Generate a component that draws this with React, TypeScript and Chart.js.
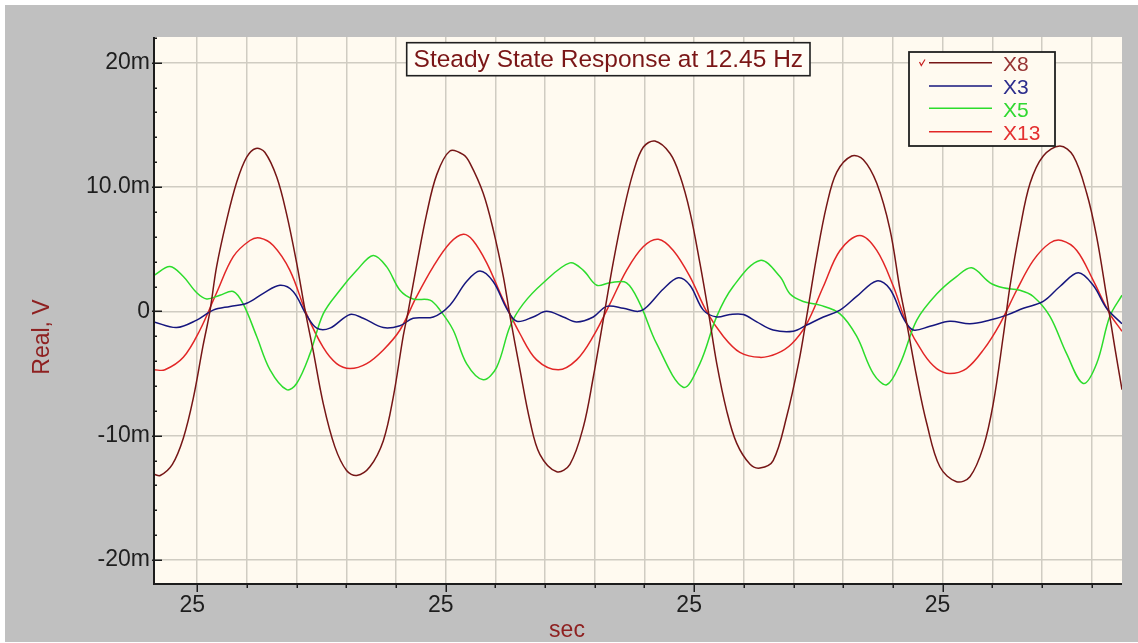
import React, { useEffect, useRef } from "react";
import { Chart, registerables } from "chart.js";

Chart.register(...registerables);

// ---------- data ----------
const chartTitle = "Steady State Response at 12.45 Hz";
const yAxisTitle = "Real, V";
const xAxisTitle = "sec";

const seriesNames = ["X8", "X3", "X5", "X13"];
const seriesColors = ["#761616", "#16167E", "#2CDC2C", "#E22626"];
const legendTextColors = ["#963232", "#2C2C8C", "#30D830", "#E43030"];

// time offsets in ms (one grid division = 20 ms), values in mV
const xMinMs = -17.4;
const xMaxMs = 372.2;
const yMin = -21.93;
const yMax = 22.07;

const xLabelStep = 100;
const xTickText = "25";
const yTickValues = [20, 10, 0, -10, -20];
const yTickTexts = ["20m", "10.0m", "0", "-10m", "-20m"];

const x8Time = [-17.4, -14.9, -10.0, -5.6, -1.6, 2.3, 5.1, 7.8, 11.8, 15.9, 19.9, 23.6, 27.2, 32.0, 36.0, 40.0, 43.3, 46.6, 50.7, 55.4, 60.1, 64.2, 69.5, 74.9, 78.9, 82.9, 84.9, 88.3, 92.3, 96.4, 101.7, 107.1, 109.8, 115.1, 119.1, 123.2, 125.9, 129.9, 133.9, 137.9, 144.7, 150.0, 155.4, 159.4, 163.4, 167.4, 171.5, 175.5, 179.5, 184.2, 190.3, 194.3, 198.3, 202.3, 205.7, 209.1, 213.1, 217.1, 222.5, 226.5, 231.8, 237.2, 242.2, 245.3, 249.3, 253.3, 257.4, 263.4, 268.1, 273.5, 278.8, 282.9, 285.6, 289.6, 293.6, 298.9, 305.6, 311.0, 316.4, 320.4, 324.4, 327.1, 331.1, 335.2, 340.5, 347.2, 352.6, 358.0, 362.0, 366.0, 369.3, 372.2];
const x8Values = [-13.1, -13.2, -12.3, -10.2, -7.0, -2.8, 0, 3.6, 7.3, 10.4, 12.4, 13.1, 12.8, 10.8, 7.8, 3.9, 0.2, -3.1, -7.4, -10.9, -12.8, -13.2, -12.5, -10.4, -6.9, -2.0, 0, 3.7, 7.8, 11.0, 12.9, 12.6, 11.9, 9.5, 6.6, 2.8, -0.4, -4.7, -8.8, -11.5, -12.9, -12.3, -9.3, -5.3, -0.7, 3.9, 8.0, 11.2, 13.2, 13.7, 12.7, 10.9, 8.0, 3.9, 0, -4.2, -8.0, -10.6, -12.3, -12.6, -12.0, -8.5, -4.0, -0.4, 4.4, 8.5, 11.2, 12.5, 12.2, 10.3, 6.6, 1.7, -1.0, -5.3, -9.0, -12.5, -13.7, -13.3, -10.9, -7.4, -2.0, 2.0, 6.6, 10.3, 12.5, 13.3, 12.5, 9.5, 6.0, 1.2, -2.9, -6.3];

const x3Time = [-17.4, -8.3, -0.2, 6.4, 13.2, 19.9, 26.6, 33.3, 38.6, 44.0, 48.1, 53.4, 61.5, 66.8, 74.9, 81.6, 86.9, 95.0, 101.7, 108.4, 113.8, 119.1, 124.5, 128.6, 135.2, 140.6, 147.3, 152.7, 159.4, 164.8, 171.5, 177.5, 180.9, 187.6, 193.6, 198.3, 203.7, 209.1, 214.4, 219.8, 225.2, 231.8, 239.9, 245.3, 252.0, 258.7, 265.4, 273.5, 278.8, 284.2, 288.2, 294.9, 302.9, 311.0, 319.1, 325.8, 332.5, 340.5, 347.2, 354.6, 360.6, 366.0, 372.2];
const x3Values = [-0.85, -1.3, -0.7, 0.1, 0.4, 0.65, 1.45, 2.1, 1.6, -0.3, -1.35, -1.35, -0.25, -0.55, -1.3, -1.15, -0.55, -0.45, 0.5, 2.4, 3.25, 2.4, 0.25, -0.8, -0.45, 0, -0.45, -0.85, -0.45, 0.4, 0.25, 0, 0.35, 1.8, 2.7, 2.1, 0.1, -0.45, -0.25, -0.25, -0.85, -1.5, -1.6, -1.1, -0.45, 0.1, 1.2, 2.45, 1.8, -0.55, -1.5, -1.2, -0.8, -1.0, -0.7, -0.3, 0.25, 0.8, 2.0, 3.1, 2.1, 0.25, -1.0];

const x5Time = [-17.4, -11.0, -5.6, -0.2, 3.8, 9.1, 14.5, 18.5, 23.9, 29.3, 36.0, 40.0, 45.4, 50.7, 57.4, 64.2, 70.8, 76.2, 81.6, 86.9, 93.7, 97.7, 103.0, 108.4, 115.1, 120.5, 125.9, 131.2, 139.3, 150.0, 155.4, 160.8, 166.1, 172.8, 178.2, 184.9, 195.6, 202.3, 209.1, 215.7, 226.5, 234.5, 238.6, 243.9, 250.6, 258.7, 265.4, 272.1, 277.5, 282.9, 289.6, 297.6, 305.6, 311.7, 319.1, 324.4, 331.1, 336.5, 343.2, 349.9, 356.6, 362.0, 367.3, 372.2];
const x5Values = [2.9, 3.6, 2.8, 1.5, 1.0, 1.3, 1.6, 0.6, -2.0, -4.7, -6.3, -5.8, -3.4, -0.2, 1.7, 3.3, 4.5, 3.6, 1.7, 1.0, 0.9, 0.1, -1.5, -4.2, -5.5, -4.5, -1.2, 0.6, 2.3, 3.9, 3.3, 2.1, 2.3, 2.3, 0.6, -2.6, -6.1, -4.2, -0.4, 2.0, 4.1, 2.8, 1.4, 0.8, 0.5, -0.2, -2.0, -5.0, -5.9, -4.2, -0.7, 1.4, 2.8, 3.5, 2.3, 1.9, 1.7, 1.2, -0.4, -3.4, -5.8, -4.2, -0.4, 1.3];

const x13Time = [-17.4, -13.0, -5.6, 1.1, 7.8, 14.5, 21.2, 25.2, 30.6, 37.3, 44.0, 50.7, 56.1, 61.5, 68.2, 74.9, 81.6, 88.3, 95.0, 101.7, 107.1, 111.0, 116.5, 123.2, 129.9, 136.6, 145.3, 152.7, 159.4, 166.1, 172.8, 179.5, 185.6, 191.6, 198.3, 205.0, 211.7, 218.4, 226.5, 233.2, 239.3, 245.3, 252.0, 258.7, 266.7, 273.5, 280.2, 285.6, 292.3, 297.6, 302.9, 309.6, 316.4, 323.1, 329.8, 336.5, 343.2, 347.9, 354.0, 360.6, 367.3, 372.2];
const x13Values = [-4.7, -4.7, -3.7, -1.5, 1.5, 4.4, 5.7, 5.9, 5.3, 3.3, -0.2, -2.9, -4.2, -4.6, -4.2, -3.1, -1.5, 1.2, 3.6, 5.5, 6.2, 5.7, 3.9, 0.9, -1.8, -3.9, -4.7, -3.9, -2.0, 0.6, 3.3, 5.2, 5.8, 4.9, 2.8, 0, -2.0, -3.3, -3.7, -3.4, -2.6, -1.0, 2.0, 4.9, 6.1, 4.9, 2.0, -1.0, -3.4, -4.6, -5.0, -4.6, -3.1, -1.0, 1.7, 4.1, 5.5, 5.7, 4.9, 2.5, -0.2, -1.6];

const seriesTimes = [x8Time, x3Time, x5Time, x13Time];
const seriesValues = [x8Values, x3Values, x5Values, x13Values];

// ---------- styles ----------
const pageBg = "#FFFFFF";
const frameBg = "#C0C0C0";
const plotBg = "#FFFAF0";
const gridColor = "#D0CCC2";
const axisColor = "#1C1C1C";
const tickTextColor = "#1E1E1E";
const titleTextColor = "#7A1616";
const axisTitleColor = "#8E2020";
const FONT = "Arial, 'Liberation Sans', sans-serif";

const decorPlugin = {
  id: "decor",
  beforeDraw(chart: any) {
    const { ctx, chartArea: a } = chart;
    ctx.save();
    ctx.fillStyle = plotBg;
    ctx.fillRect(a.left, a.top, a.right - a.left, a.bottom - a.top);
    ctx.restore();
  },
  afterDraw(chart: any) {
    const { ctx, chartArea: a, scales } = chart;
    const xs = scales.x;
    const ys = scales.y;
    ctx.save();

    // axis lines
    ctx.strokeStyle = axisColor;
    ctx.lineWidth = 2;
    ctx.beginPath();
    ctx.moveTo(a.left, a.top);
    ctx.lineTo(a.left, a.bottom);
    ctx.lineTo(a.right, a.bottom);
    ctx.stroke();

    // x tick marks
    ctx.lineWidth = 1.5;
    xs.ticks.forEach((t: any) => {
      const px = Math.round(xs.getPixelForValue(t.value)) + 0.25;
      const major = Math.abs(t.value % xLabelStep) < 1e-6;
      ctx.beginPath();
      ctx.moveTo(px, a.bottom);
      ctx.lineTo(px, a.bottom + (major ? 8 : 4));
      ctx.stroke();
    });

    // y tick marks
    for (let v = -20; v <= 22; v += 2) {
      const py = Math.round(ys.getPixelForValue(v)) + 0.25;
      const major = v % 10 === 0;
      ctx.beginPath();
      ctx.moveTo(major ? a.left - 2 : a.left, py);
      ctx.lineTo(a.left + (major ? 8 : 3), py);
      ctx.stroke();
    }

    // title box
    const tb = { x: 401.7, y: 37.7, w: 403.3, h: 33 };
    ctx.fillStyle = "#FFFDF6";
    ctx.fillRect(tb.x, tb.y, tb.w, tb.h);
    ctx.strokeStyle = "#202020";
    ctx.lineWidth = 1.6;
    ctx.strokeRect(tb.x, tb.y, tb.w, tb.h);
    ctx.fillStyle = titleTextColor;
    ctx.font = `24.5px ${FONT}`;
    ctx.textAlign = "center";
    ctx.textBaseline = "alphabetic";
    ctx.fillText(chartTitle, tb.x + tb.w / 2, 62);

    // legend box
    const lb = { x: 904, y: 47, w: 146, h: 94 };
    ctx.fillStyle = plotBg;
    ctx.fillRect(lb.x, lb.y, lb.w, lb.h);
    ctx.strokeStyle = "#202020";
    ctx.lineWidth = 1.8;
    ctx.strokeRect(lb.x, lb.y, lb.w, lb.h);
    const lineY = [57.7, 81, 103.3, 126.7];
    const baseY = [65.7, 89, 111.7, 135];
    chart.data.datasets.forEach((ds: any, i: number) => {
      ctx.strokeStyle = ds.borderColor;
      ctx.lineWidth = 1.6;
      ctx.beginPath();
      ctx.moveTo(924, lineY[i]);
      ctx.lineTo(987, lineY[i]);
      ctx.stroke();
      ctx.fillStyle = legendTextColors[i];
      ctx.font = `21px ${FONT}`;
      ctx.textAlign = "left";
      ctx.fillText(ds.label, 998, baseY[i]);
    });
    // check mark beside first entry
    ctx.strokeStyle = "#C82020";
    ctx.lineWidth = 1.2;
    ctx.beginPath();
    ctx.moveTo(914.5, 57);
    ctx.lineTo(916.3, 60.5);
    ctx.lineTo(920, 54.5);
    ctx.stroke();

    // axis titles
    ctx.fillStyle = axisTitleColor;
    ctx.font = `23px ${FONT}`;
    ctx.textAlign = "center";
    ctx.textBaseline = "alphabetic";
    ctx.fillText(xAxisTitle, 562, 631.5);
    ctx.save();
    ctx.translate(43.5, 332);
    ctx.rotate(-Math.PI / 2);
    ctx.fillText(yAxisTitle, 0, 0);
    ctx.restore();

    ctx.restore();
  },
};

function App() {
  const canvasRef = useRef<HTMLCanvasElement | null>(null);

  useEffect(() => {
    document.body.style.margin = "0";
    const canvas = canvasRef.current;
    if (!canvas) return;
    const chart = new Chart(canvas, {
      type: "line",
      data: {
        datasets: seriesNames.map((name, i) => ({
          label: name,
          data: seriesTimes[i].map((t, j) => ({ x: t, y: seriesValues[i][j] })),
          borderColor: seriesColors[i],
          backgroundColor: seriesColors[i],
          borderWidth: 1.5,
          pointRadius: 0,
          fill: false,
          tension: 0.35,
        })),
      },
      options: {
        responsive: false,
        animation: false,
        events: [],
        layout: { padding: { left: 0, top: 32, right: 16, bottom: 0 } },
        plugins: {
          legend: { display: false },
          title: { display: false },
          tooltip: { enabled: false },
        },
        scales: {
          x: {
            type: "linear",
            min: xMinMs,
            max: xMaxMs,
            afterFit: (s: any) => {
              s.height = 58;
            },
            border: { display: false },
            grid: { color: gridColor, lineWidth: 1.5, drawTicks: false },
            ticks: {
              stepSize: 20,
              includeBounds: false,
              autoSkip: false,
              maxRotation: 0,
              padding: 8,
              labelOffset: -5,
              color: tickTextColor,
              font: { family: FONT, size: 23 },
              callback: (v: any) => (Math.abs(Number(v) % xLabelStep) < 1e-6 ? xTickText : ""),
            },
          },
          y: {
            type: "linear",
            min: yMin,
            max: yMax,
            afterFit: (s: any) => {
              s.width = 149;
            },
            border: { display: false },
            grid: { color: gridColor, lineWidth: 1.5, drawTicks: false },
            ticks: {
              stepSize: 10,
              includeBounds: false,
              autoSkip: false,
              padding: 4,
              color: tickTextColor,
              font: { family: FONT, size: 23 },
              callback: (v: any) => {
                const idx = yTickValues.indexOf(Math.round(Number(v)));
                return idx >= 0 ? yTickTexts[idx] : "";
              },
            },
          },
        },
      },
      plugins: [decorPlugin],
    });
    return () => chart.destroy();
  }, []);

  return (
    <div style={{ position: "relative", width: 1138, height: 643, background: pageBg, overflow: "hidden" }}>
      <div style={{ position: "absolute", left: 5, top: 5, width: 1133, height: 637, background: frameBg }}>
        <canvas ref={canvasRef} width={1133} height={637} style={{ display: "block", width: 1133, height: 637 }} />
      </div>
    </div>
  );
}

export default App;
